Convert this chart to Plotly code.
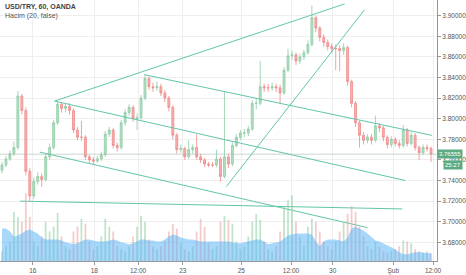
import plotly.graph_objects as go

# ---------------- data ----------------
opens = [3.750, 3.755, 3.761, 3.766, 3.772, 3.822, 3.808, 3.749, 3.725, 3.739,
         3.744, 3.741, 3.763, 3.772, 3.796, 3.814, 3.810, 3.812, 3.808, 3.789,
         3.782, 3.782, 3.763, 3.760, 3.759, 3.761, 3.765, 3.785, 3.789, 3.774,
         3.772, 3.796, 3.806, 3.811, 3.800, 3.801, 3.820, 3.839, 3.831, 3.830,
         3.831, 3.825, 3.820, 3.811, 3.784, 3.770, 3.771, 3.763, 3.770, 3.772,
         3.763, 3.760, 3.756, 3.755, 3.755, 3.761, 3.744, 3.763, 3.756, 3.774,
         3.782, 3.786, 3.786, 3.790, 3.815, 3.815, 3.831, 3.830, 3.830, 3.831,
         3.830, 3.825, 3.847, 3.861, 3.862, 3.856, 3.860, 3.864, 3.872, 3.898,
         3.888, 3.879, 3.874, 3.870, 3.868, 3.868, 3.866, 3.869, 3.836, 3.815,
         3.796, 3.784, 3.779, 3.782, 3.779, 3.793, 3.791, 3.782, 3.775, 3.780,
         3.776, 3.774, 3.789, 3.776, 3.784, 3.772, 3.767, 3.772, 3.771]
highs = [3.758, 3.764, 3.769, 3.778, 3.827, 3.824, 3.811, 3.752, 3.743, 3.748,
         3.747, 3.766, 3.776, 3.799, 3.816, 3.816, 3.815, 3.815, 3.810, 3.792,
         3.798, 3.784, 3.765, 3.763, 3.764, 3.768, 3.788, 3.792, 3.791, 3.777,
         3.799, 3.809, 3.814, 3.813, 3.805, 3.823, 3.842, 3.841, 3.835, 3.836,
         3.834, 3.828, 3.822, 3.813, 3.786, 3.775, 3.773, 3.779, 3.775, 3.785,
         3.766, 3.762, 3.758, 3.758, 3.770, 3.763, 3.827, 3.766, 3.777, 3.785,
         3.789, 3.790, 3.793, 3.818, 3.819, 3.856, 3.834, 3.834, 3.835, 3.834,
         3.833, 3.850, 3.868, 3.866, 3.864, 3.863, 3.867, 3.876, 3.910, 3.900,
         3.890, 3.882, 3.877, 3.873, 3.872, 3.871, 3.873, 3.871, 3.838, 3.817,
         3.798, 3.787, 3.785, 3.785, 3.803, 3.796, 3.793, 3.784, 3.783, 3.782,
         3.779, 3.794, 3.791, 3.787, 3.786, 3.774, 3.775, 3.775, 3.773]
lows = [3.747, 3.753, 3.759, 3.764, 3.770, 3.804, 3.745, 3.720, 3.722, 3.736,
        3.734, 3.739, 3.760, 3.770, 3.794, 3.806, 3.806, 3.804, 3.786, 3.779,
        3.778, 3.760, 3.757, 3.756, 3.757, 3.759, 3.763, 3.782, 3.771, 3.768,
        3.770, 3.793, 3.803, 3.797, 3.789, 3.799, 3.818, 3.828, 3.826, 3.827,
        3.822, 3.816, 3.807, 3.780, 3.766, 3.767, 3.760, 3.761, 3.766, 3.760,
        3.757, 3.753, 3.753, 3.753, 3.753, 3.739, 3.742, 3.752, 3.754, 3.772,
        3.779, 3.782, 3.783, 3.788, 3.809, 3.813, 3.826, 3.826, 3.827, 3.826,
        3.814, 3.823, 3.845, 3.857, 3.852, 3.853, 3.857, 3.862, 3.870, 3.884,
        3.875, 3.870, 3.866, 3.864, 3.847, 3.846, 3.862, 3.832, 3.811, 3.792,
        3.772, 3.775, 3.776, 3.775, 3.777, 3.787, 3.778, 3.771, 3.772, 3.773,
        3.771, 3.772, 3.773, 3.774, 3.769, 3.760, 3.765, 3.768, 3.758]
closes = [3.755, 3.761, 3.766, 3.772, 3.822, 3.808, 3.749, 3.725, 3.739, 3.744,
          3.741, 3.763, 3.772, 3.796, 3.814, 3.810, 3.812, 3.808, 3.789, 3.782,
          3.782, 3.763, 3.760, 3.759, 3.761, 3.765, 3.785, 3.789, 3.774, 3.772,
          3.796, 3.806, 3.811, 3.800, 3.801, 3.820, 3.839, 3.831, 3.830, 3.831,
          3.825, 3.820, 3.811, 3.784, 3.770, 3.771, 3.763, 3.770, 3.772, 3.763,
          3.760, 3.756, 3.755, 3.755, 3.761, 3.744, 3.763, 3.756, 3.774, 3.782,
          3.786, 3.786, 3.790, 3.815, 3.815, 3.831, 3.830, 3.830, 3.831, 3.830,
          3.825, 3.847, 3.861, 3.862, 3.856, 3.860, 3.864, 3.872, 3.898, 3.888,
          3.879, 3.874, 3.870, 3.868, 3.868, 3.866, 3.869, 3.836, 3.815, 3.796,
          3.784, 3.779, 3.782, 3.779, 3.793, 3.791, 3.782, 3.775, 3.780, 3.776,
          3.774, 3.789, 3.776, 3.784, 3.772, 3.767, 3.772, 3.771, 3.76555]
volume = [10, 15, 20, 50, 45, 40, 69, 45, 20, 15,
          25, 40, 30, 35, 49, 25, 15, 12, 30, 35,
          43, 38, 20, 12, 15, 25, 43, 35, 30, 15,
          12, 10, 15, 25, 35, 46, 40, 22, 15, 12,
          15, 20, 30, 38, 33, 18, 12, 10, 15, 30,
          43, 35, 18, 12, 15, 40, 46, 42, 38, 20,
          12, 15, 25, 40, 48, 42, 20, 12, 10, 15,
          30, 55, 62, 67, 40, 25, 15, 35, 43, 40,
          30, 20, 15, 12, 20, 30, 40, 48, 56, 50,
          35, 25, 15, 12, 20, 15, 10, 8, 10, 12,
          15, 21, 20, 18, 12, 10, 8, 10, 8]
volume_ma = [33, 33, 30, 25, 26, 28, 31, 32, 30, 28,
             24, 22, 22, 22, 22, 21, 19, 18, 17, 18,
             20, 22, 22, 21, 20, 20, 20, 21, 22, 21,
             19, 18, 17, 18, 20, 22, 22, 21, 21, 20,
             20, 22, 25, 27, 26, 24, 23, 22, 22, 21,
             20, 20, 20, 20, 20, 20, 20, 20, 19, 18,
             18, 19, 20, 21, 22, 22, 20, 17, 18, 19,
             20, 23, 26, 27, 28, 28, 28, 28, 27, 20,
             15, 20, 22, 22, 22, 21, 20, 24, 33, 35,
             33, 31, 28, 24, 21, 20, 18, 16, 14, 12,
             9, 7, 7, 8, 9, 9, 9, 8, 8]

tick_pos = [7.75, 23.25, 34.25, 45.5, 60.25, 72.75, 83.25, 98.5, 108.5]
tick_text = ["16", "18", "12:00", "23", "25", "12:00", "30", "Şub", "12:00"]
price_ticks = [3.68, 3.70, 3.72, 3.74, 3.76, 3.78, 3.80, 3.82, 3.84, 3.86, 3.88, 3.90]

# trend lines drawn on the chart: (bar index, price) end points
trend_lines = [
    ([13.25, 86.25], [3.8171, 3.9114]),
    ([35.75, 108.25], [3.8428, 3.7838]),
    ([13.25, 101.5], [3.8171, 3.7400]),
    ([9.5, 92.0], [3.7676, 3.6943]),
    ([4.5, 100.75], [3.7200, 3.7124]),
    ([56.5, 91.25], [3.7343, 3.9057]),
]
last_price_text = "3.76555"
timer_text = "25:27"

# ---------------- figure ----------------
idx = list(range(len(closes)))
vol_colors = ["rgba(140,205,160,0.55)" if c >= o else "rgba(235,160,160,0.55)"
              for o, c in zip(opens, closes)]

fig = go.Figure()
fig.add_trace(go.Bar(x=idx, y=volume, yaxis="y2", marker_color=vol_colors,
                     marker_line_width=0, width=0.45, hoverinfo="skip"))
fig.add_trace(go.Scatter(x=idx, y=volume_ma, yaxis="y2", mode="lines",
                         line=dict(width=0, color="rgba(90,180,245,0.6)"),
                         fill="tozeroy", fillcolor="rgba(95,182,245,0.55)",
                         hoverinfo="skip"))
fig.add_trace(go.Candlestick(
    x=idx, open=opens, high=highs, low=lows, close=closes,
    increasing=dict(line=dict(color="#8fcca6", width=0.8), fillcolor="#b3e0c3"),
    decreasing=dict(line=dict(color="#ef8c8c", width=0.8), fillcolor="#f5b0b0"),
    whiskerwidth=0, hoverinfo="skip"))
for xs, ys in trend_lines:
    fig.add_trace(go.Scatter(x=xs, y=ys, mode="lines",
                             line=dict(color="#62c5aa", width=1),
                             hoverinfo="skip"))

fig.add_hline(y=closes[-1], line=dict(color="rgba(160,180,170,0.55)", width=1))

font_family = "Liberation Sans, Arial, sans-serif"
fig.update_layout(
    width=466, height=275,
    margin=dict(l=0, r=26, t=0, b=9),
    paper_bgcolor="white", plot_bgcolor="white",
    showlegend=False,
    font=dict(family=font_family, size=7, color="#555"),
    xaxis=dict(range=[-0.5, 109.5], rangeslider=dict(visible=False),
               tickvals=tick_pos, ticktext=tick_text,
               showgrid=True, gridcolor="#eeeeee", gridwidth=1,
               showline=True, linecolor="#999", linewidth=1,
               ticks="outside", ticklen=3, tickcolor="#999",
               tickfont=dict(size=6.5, color="#555"), zeroline=False),
    yaxis=dict(range=[3.6619, 3.9152], side="right",
               tickvals=price_ticks, tickformat=".5f",
               showgrid=True, gridcolor="#eeeeee", gridwidth=1,
               showline=True, linecolor="#999", linewidth=1,
               ticks="outside", ticklen=3, tickcolor="#999",
               tickfont=dict(size=6.5, color="#555"), zeroline=False),
    yaxis2=dict(range=[0, 266], overlaying="y", visible=False),
)

fig.add_annotation(x=0.008, y=0.995, xref="paper", yref="paper",
                   xanchor="left", yanchor="top", showarrow=False,
                   text="<b>USD/TRY, 60, OANDA</b>",
                   font=dict(size=7, color="#444", family=font_family))
fig.add_annotation(x=0.008, y=0.962, xref="paper", yref="paper",
                   xanchor="left", yanchor="top", showarrow=False,
                   text="Hacim (20, false)",
                   font=dict(size=7, color="#555", family=font_family))
fig.add_annotation(x=1.0, y=closes[-1], xref="paper", yref="y",
                   xanchor="left", yanchor="middle", showarrow=False,
                   text=last_price_text, bgcolor="#5dab82", borderpad=1,
                   font=dict(size=6, color="white", family=font_family))
fig.add_annotation(x=1.0, y=closes[-1], xref="paper", yref="y",
                   xanchor="left", yanchor="top", yshift=-6, xshift=6,
                   showarrow=False,
                   text=timer_text, bgcolor="#5dab82", borderpad=1,
                   font=dict(size=6, color="white", family=font_family))

fig.write_html("out.html")
